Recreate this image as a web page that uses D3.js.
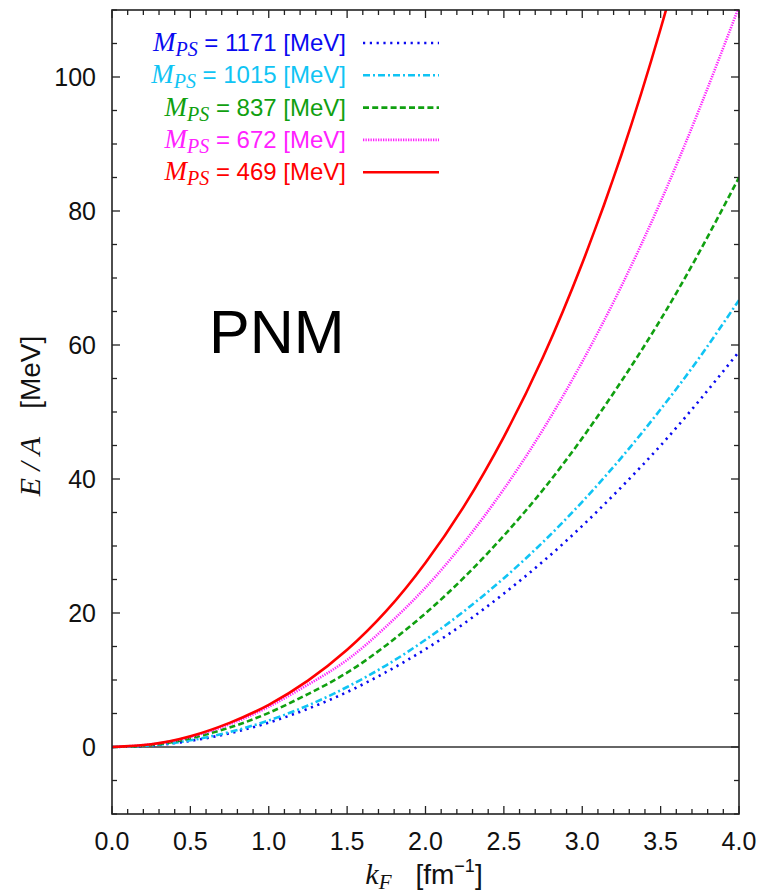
<!DOCTYPE html>
<html><head><meta charset="utf-8">
<script src="https://cdn.jsdelivr.net/npm/d3@7"></script>
<style>body{margin:0;background:#fff}</style>
</head><body>
<script>
const kF = [0,0.25,0.5,0.75,1.0,1.25,1.5,1.75,2.0,2.25,2.5,2.75,3.0,3.25,3.5,3.75,4.0];
const E1171 = [0,0.23,0.91,2.05,3.64,5.7,8.2,11.2,14.6,18.5,22.9,27.7,33.0,38.8,45.0,51.8,59.0];
const E1015 = [0,0.25,1.0,2.23,3.96,6.2,8.96,12.2,16.0,20.35,25.2,30.6,36.6,43.2,50.4,58.2,66.7];
const E837  = [0,0.3,1.3,2.9,5.1,7.9,11.1,15.2,19.95,25.4,31.55,38.4,46.1,54.6,63.8,74.0,85.0];
const E672  = [0,0.4,1.5,3.4,6.0,9.3,13.0,18.0,23.8,30.65,38.5,47.4,57.5,68.8,81.4,95.4,110.5];
const E469  = [0,0.4,1.6,3.6,6.3,9.9,14.5,20.3,27.5,36.1,46.3,58.2,72.2,88.4,107.2,128.7,152.0];
const masses = ["1171","1015","837","672","469"];
const colors = ["#0a0af0","#10c4f4","#10a010","#ff22ff","#ff0000"];
const dashes = ["2.2,4.6","7,3,2,3","6,3.2","1.3,1.2",null];
const xTicks = [0.0,0.5,1.0,1.5,2.0,2.5,3.0,3.5,4.0];
const yTicks = [0,20,40,60,80,100];

const W=760,H=893;
const L=112,R=739,T=10,B=814;
const svg=d3.select("body").append("svg").attr("width",W).attr("height",H)
  .style("font-family","'Liberation Sans',Arial,sans-serif");
const x=d3.scaleLinear().domain([0,4]).range([L,R]);
const y=d3.scaleLinear().domain([-10,110]).range([B,T]);

svg.append("defs").append("clipPath").attr("id","clip")
  .append("rect").attr("x",L).attr("y",T).attr("width",R-L).attr("height",B-T);

// zero line
svg.append("line").attr("x1",L).attr("x2",R).attr("y1",y(0)).attr("y2",y(0))
  .attr("stroke","#333").attr("stroke-width",1.3);

// ticks (inward, mirrored)
const g=svg.append("g").attr("stroke","#222").attr("stroke-width",1.3);
d3.range(0,4.0001,0.1).forEach(v=>{
  const major=Math.abs(v*2-Math.round(v*2))<1e-6;
  const len=major?8:5;
  g.append("line").attr("x1",x(v)).attr("x2",x(v)).attr("y1",B).attr("y2",B-len);
  g.append("line").attr("x1",x(v)).attr("x2",x(v)).attr("y1",T).attr("y2",T+len);
});
d3.range(-10,110.001,5).forEach(v=>{
  const major=(v%20===0);
  const len=major?8:5;
  g.append("line").attr("x1",L).attr("x2",L+len).attr("y1",y(v)).attr("y2",y(v));
  g.append("line").attr("x1",R).attr("x2",R-len).attr("y1",y(v)).attr("y2",y(v));
});

// curves
const series=[E1171,E1015,E837,E672,E469];
const line=d3.line().x((d,i)=>x(kF[i])).y(d=>y(d)).curve(d3.curveNatural);
const cg=svg.append("g").attr("clip-path","url(#clip)");
series.forEach((s,i)=>{
  const p=cg.append("path").datum(s).attr("d",line).attr("fill","none")
    .attr("stroke",colors[i]).attr("stroke-width",2.6);
  if(dashes[i]) p.attr("stroke-dasharray",dashes[i]);
});

// frame
svg.append("rect").attr("x",L).attr("y",T).attr("width",R-L).attr("height",B-T)
  .attr("fill","none").attr("stroke","#222").attr("stroke-width",1.6);

// tick labels
xTicks.forEach(v=>{
  svg.append("text").attr("x",x(v)).attr("y",850).attr("text-anchor","middle")
    .attr("font-size",25).attr("fill","#111").text(v.toFixed(1));
});
yTicks.forEach(v=>{
  svg.append("text").attr("x",96).attr("y",y(v)+9).attr("text-anchor","end")
    .attr("font-size",25).attr("fill","#111").text(v);
});

// axis labels
const xl=svg.append("text").attr("x",424).attr("y",884).attr("text-anchor","middle").attr("font-size",28).attr("fill","#111");
xl.append("tspan").attr("font-family","'Liberation Serif',serif").attr("font-style","italic").attr("font-size",30).text("k");
xl.append("tspan").attr("font-family","'Liberation Serif',serif").attr("font-style","italic").attr("font-size",21).attr("dy",5).text("F");
xl.append("tspan").attr("dy",-5).attr("dx",24).text("[fm");
xl.append("tspan").attr("font-size",18).attr("dy",-12).text("−1");
xl.append("tspan").attr("dy",12).text("]");

const yl=svg.append("text").attr("transform","translate(40,416) rotate(-90)")
  .attr("text-anchor","middle").attr("font-size",28).attr("fill","#111");
yl.append("tspan").attr("font-family","'Liberation Serif',serif").attr("font-style","italic").attr("font-size",30).text("E / A");
yl.append("tspan").attr("dx",28).text("[MeV]");

// PNM
svg.append("text").attr("x",209).attr("y",353).attr("font-size",61).attr("fill","#000").text("PNM");

// legend
masses.forEach((m,i)=>{
  const yy=43+i*32.3;
  const t=svg.append("text").attr("x",346).attr("y",yy+8).attr("text-anchor","end")
    .attr("font-size",24).attr("fill",colors[i]);
  t.append("tspan").attr("font-family","'Liberation Serif',serif").attr("font-style","italic").attr("font-size",27).text("M");
  t.append("tspan").attr("font-family","'Liberation Serif',serif").attr("font-style","italic").attr("font-size",20).attr("dy",5).text("PS");
  t.append("tspan").attr("dy",-5).text(" = "+m+" [MeV]");
  const l=svg.append("line").attr("x1",363).attr("x2",439).attr("y1",yy).attr("y2",yy)
    .attr("stroke",colors[i]).attr("stroke-width",2.6);
  if(dashes[i]) l.attr("stroke-dasharray",dashes[i]);
});
</script>
</body></html>
